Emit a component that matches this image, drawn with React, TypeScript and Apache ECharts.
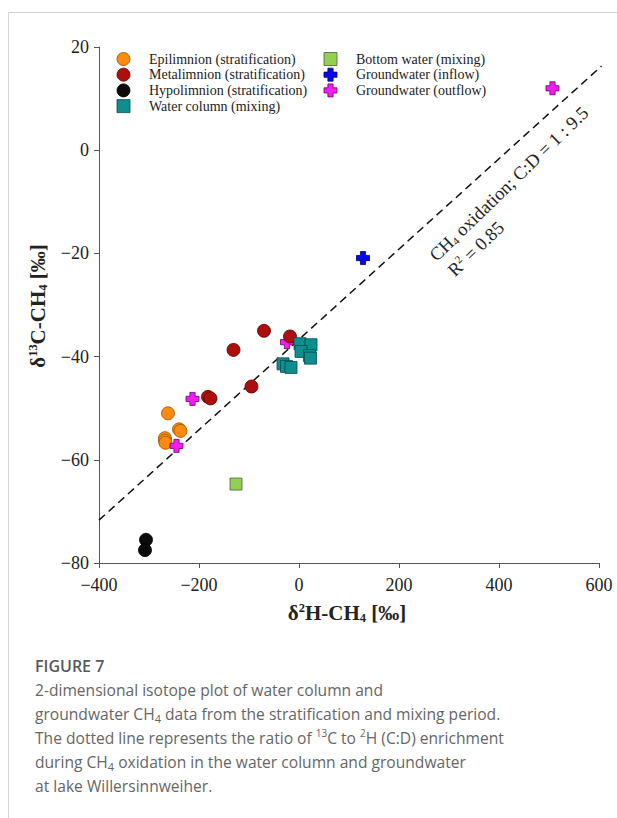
import React, { useEffect, useRef } from 'react';
import * as echarts from 'echarts';

const SERIF = 'Liberation Serif';
const SANS = 'Open Sans';

// axis ranges / ticks
const X_MIN = -400, X_MAX = 600, X_STEP = 200;
const Y_MIN = -80, Y_MAX = 20, Y_STEP = 20;

// series names
const NAMES = [
  'Epilimnion (stratification)',
  'Metalimnion (stratification)',
  'Hypolimnion (stratification)',
  'Water column (mixing)',
  'Bottom water (mixing)',
  'Groundwater (inflow)',
  'Groundwater (outflow)',
];

// data [δ2H, δ13C]
const epilimnion = [[-262, -51.0], [-240, -54.1], [-237, -54.4], [-268, -55.8], [-268, -56.3], [-267, -56.7]];
const metalimnion = [[-70, -35.0], [-18, -36.1], [-131, -38.7], [-95, -45.8], [-182, -47.8], [-177, -48.1]];
const hypolimnion = [[-306, -75.5], [-308, -77.5]];
const waterColumn = [[2, -37.5], [24, -37.7], [4, -39.0], [21, -39.8], [23, -40.3], [-32, -41.4], [-25, -41.9], [-16, -42.1]];
const bottomWater = [[-126, -64.7]];
const gwInflow = [[128, -20.9]];
const gwOutflow = [[507, 12.0], [-213, -48.2], [-245, -57.3], [-24, -37.2]];
// regression line (CH4 oxidation), [x1, y1, x2, y2]
const oxidationLine = [[-400, -71.7, 605, 16.3]];

const SQUARE = 'path://M0,0L10,0L10,10L0,10Z';
const CROSS = 'path://M3,0L7,0L7,3L10,3L10,7L7,7L7,10L3,10L3,7L0,7L0,3L3,3Z';

const fmt = (v: number) => (v < 0 ? '\u2212' + Math.abs(v) : String(v));

function scatter(name: string, data: number[][], symbol: string, size: number, color: string, border: string) {
  return {
    type: 'scatter',
    name,
    data,
    symbol,
    symbolSize: size,
    symbolKeepAspect: true,
    itemStyle: { color, borderColor: border, borderWidth: 0.8, opacity: 1 },
    emphasis: { disabled: true },
  };
}

const capTok = (size: number, extra: any = {}) => ({
  fontFamily: SANS, fontSize: size, fill: '#666', lineHeight: 24, ...extra,
});

export default function App() {
  const ref = useRef<HTMLDivElement>(null);
  useEffect(() => {
    const chart = echarts.init(ref.current!, null, { renderer: 'svg' });
    const legendCommon = {
      orient: 'vertical',
      top: 52,
      padding: 0,
      itemWidth: 41,
      itemHeight: 13,
      itemGap: 1.7,
      selectedMode: false,
      itemStyle: { borderWidth: 0.8 },
      textStyle: { fontFamily: SERIF, fontSize: 14, color: '#222' },
    };
    const axisCommon = {
      type: 'value',
      axisLine: { show: true, onZero: false, lineStyle: { color: '#555', width: 1 } },
      axisTick: { show: true, inside: false, length: 5, lineStyle: { color: '#555', width: 1 } },
      splitLine: { show: false },
    };
    const serifTok = (size: number, extra: any = {}) => ({
      fontFamily: SERIF, fontSize: size, fill: '#222', ...extra,
    });
    const option: any = {
      animation: false,
      backgroundColor: '#fff',
      grid: { left: 99, top: 47, width: 500, height: 516 },
      xAxis: {
        ...axisCommon,
        min: X_MIN, max: X_MAX, interval: X_STEP,
        axisLabel: { fontFamily: SERIF, fontSize: 18, color: '#222', margin: 13, formatter: fmt },
      },
      yAxis: {
        ...axisCommon,
        min: Y_MIN, max: Y_MAX, interval: Y_STEP,
        axisLabel: { fontFamily: SERIF, fontSize: 18, color: '#222', margin: 10, formatter: fmt },
      },
      legend: [
        { ...legendCommon, left: 116.6, data: NAMES.slice(0, 4) },
        { ...legendCommon, left: 323.6, data: NAMES.slice(4) },
      ],
      series: [
        {
          type: 'custom',
          name: 'oxidation',
          data: oxidationLine,
          encode: { x: [0, 2], y: [1, 3] },
          silent: true,
          clip: false,
          z: 1,
          renderItem: (_p: any, api: any) => {
            const a = api.coord([api.value(0), api.value(1)]);
            const b = api.coord([api.value(2), api.value(3)]);
            return {
              type: 'line',
              shape: { x1: a[0], y1: a[1], x2: b[0], y2: b[1] },
              style: { stroke: '#111', lineWidth: 1.5, lineDash: [8, 5], fill: null },
            };
          },
        },
        scatter(NAMES[0], epilimnion, 'circle', 13, '#F98B10', '#9a5200'),
        scatter(NAMES[6], gwOutflow, CROSS, 13, '#F01EF0', '#6a006a'),
        scatter(NAMES[1], metalimnion, 'circle', 13, '#AE0E0E', '#5a0000'),
        scatter(NAMES[2], hypolimnion, 'circle', 13, '#0a0a0a', '#000'),
        scatter(NAMES[3], waterColumn, SQUARE, 12, '#0E8E8E', '#0a4a4a'),
        scatter(NAMES[4], bottomWater, SQUARE, 12, '#92D050', '#555'),
        scatter(NAMES[5], gwInflow, CROSS, 13, '#0808E8', '#00006a'),
      ],
      graphic: [
        { type: 'line', silent: true, shape: { x1: 8.5, y1: 12.5, x2: 617, y2: 12.5 }, style: { stroke: '#d4d4d4', lineWidth: 1 } },
        { type: 'line', silent: true, shape: { x1: 8.5, y1: 12.5, x2: 8.5, y2: 818 }, style: { stroke: '#d4d4d4', lineWidth: 1 } },
        {
          type: 'text', x: 509, y: 184, rotation: (44 * Math.PI) / 180, silent: true,
          style: {
            text: '{n|CH}{sub|4}{n| oxidation; C:D = 1 : 9.5}',
            align: 'center', verticalAlign: 'middle',
            rich: { n: serifTok(18.5, { lineHeight: 22 }), sub: serifTok(11, { padding: [8, 0, 0, 0] }) },
          },
        },
        {
          type: 'text', x: 476, y: 249, rotation: (44 * Math.PI) / 180, silent: true,
          style: {
            text: '{n|R}{sup|2}{n| = 0.85}',
            align: 'center', verticalAlign: 'middle',
            rich: { n: serifTok(18.5, { lineHeight: 22 }), sup: serifTok(11, { padding: [0, 0, 10, 0] }) },
          },
        },
        {
          type: 'text', x: 347, y: 613, silent: true,
          style: {
            text: '{n|δ}{sup|2}{n|H-CH}{sub|4}{n| [‰]}',
            align: 'center', verticalAlign: 'middle',
            rich: {
              n: serifTok(21, { fontWeight: 'bold', lineHeight: 24 }),
              sup: serifTok(12.5, { fontWeight: 'bold', padding: [0, 0, 10, 0] }),
              sub: serifTok(12.5, { fontWeight: 'bold', padding: [9, 0, 0, 0] }),
            },
          },
        },
        {
          type: 'text', x: 38, y: 306, rotation: Math.PI / 2, silent: true,
          style: {
            text: '{n|δ}{sup|13}{n|C-CH}{sub|4}{n| [‰]}',
            align: 'center', verticalAlign: 'middle',
            rich: {
              n: serifTok(21, { fontWeight: 'bold', lineHeight: 24 }),
              sup: serifTok(12.5, { fontWeight: 'bold', padding: [0, 0, 10, 0] }),
              sub: serifTok(12.5, { fontWeight: 'bold', padding: [9, 0, 0, 0] }),
            },
          },
        },
        {
          type: 'text', x: 35, y: 666, silent: true,
          style: { text: 'FIGURE 7', fontFamily: SANS, fontSize: 16, fontWeight: 600, fill: '#595959', align: 'left', verticalAlign: 'middle' },
        },
        {
          type: 'text', x: 35, y: 678, silent: true,
          style: {
            text: [
              '{n|2-dimensional isotope plot of water column and}',
              '{n|groundwater CH}{sub|4}{n| data from the stratification and mixing period.}',
              '{n|The dotted line represents the ratio of }{sup|13}{n|C to }{sup|2}{n|H (C:D) enrichment}',
              '{n|during CH}{sub|4}{n| oxidation in the water column and groundwater}',
              '{n|at lake Willersinnweiher.}',
            ].join('\n'),
            align: 'left', verticalAlign: 'top',
            rich: {
              n: capTok(15.6),
              sub: capTok(11, { lineHeight: undefined, padding: [8, 0, 0, 0] }),
              sup: capTok(10, { lineHeight: undefined, padding: [0, 0, 10, 0] }),
            },
          },
        },
      ],
    };
    chart.setOption(option);
    return () => chart.dispose();
  }, []);
  return (
    <div
      ref={ref}
      style={{ position: 'absolute', left: 0, top: 0, width: 617, height: 818, background: '#fff' }}
    />
  );
}
